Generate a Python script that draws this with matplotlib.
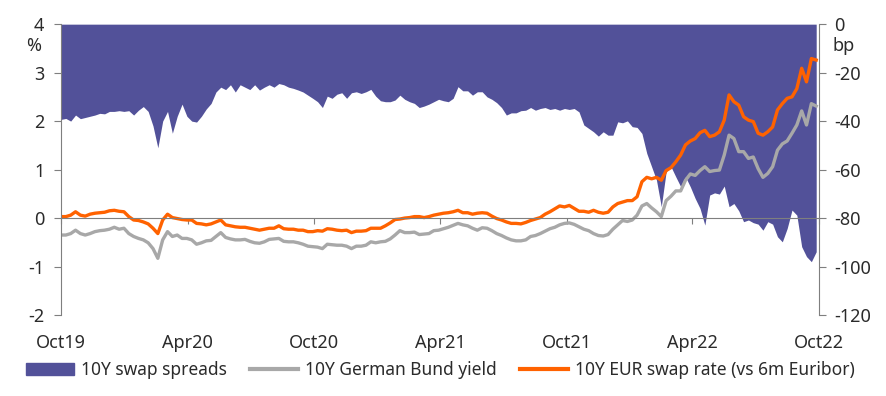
import numpy as np
import pandas as pd
import matplotlib
matplotlib.use("Agg")
import matplotlib.pyplot as plt
from matplotlib.patches import Patch
from matplotlib.lines import Line2D

plt.rcParams['font.family'] = ['Noto Sans', 'DejaVu Sans']

# weekly observations, Oct 2019 -> Oct 2022
start_date = "2019-10-01"

# 10Y swap spreads, bp (right axis)
swap_spread = [
    -39.3, -38.9, -40.0, -37.5, -39.0, -38.5, -38.0, -37.5, -36.8, -37.0,
    -36.0, -36.0, -35.7, -36.0, -35.7, -37.5, -35.5, -34.0, -36.0, -42.0,
    -51.0, -40.0, -36.0, -45.0, -38.0, -33.0, -38.0, -40.0, -40.4, -38.0,
    -35.0, -32.7, -28.0, -26.0, -27.0, -25.0, -28.0, -25.0, -26.0, -27.0,
    -25.0, -27.2, -26.0, -25.0, -26.0, -24.5, -25.0, -26.0, -26.5, -27.2,
    -28.0, -29.3, -30.6, -32.0, -34.4, -29.7, -30.6, -28.9, -28.3, -30.6,
    -28.3, -27.9, -28.6, -27.9, -26.9, -29.7, -31.6, -32.0, -32.0, -31.3,
    -29.3, -31.0, -32.0, -32.7, -34.4, -33.8, -33.0, -32.0, -31.0, -31.6,
    -32.0, -30.6, -25.8, -27.5, -27.5, -29.3, -27.9, -27.9, -30.0, -31.0,
    -32.4, -34.4, -37.5, -36.6, -36.6, -35.7, -35.5, -34.4, -35.5, -34.8,
    -34.4, -35.2, -34.8, -35.5, -34.8, -35.2, -34.8, -36.2, -41.6, -43.0,
    -44.4, -46.2, -44.4, -45.8, -45.8, -40.3, -40.7, -39.9, -42.3, -42.6,
    -45.1, -53.3, -58.8, -64.3, -75.3, -60.9, -58.8, -63.0, -67.0, -63.0,
    -67.1, -71.9, -76.0, -82.9, -70.5, -69.6, -70.1, -66.8, -75.3, -74.0,
    -77.0, -81.5, -80.8, -81.9, -82.5, -85.0, -81.5, -82.5, -87.7, -89.8,
    -84.3, -76.7, -78.8, -91.8, -95.9, -98.0, -93.9,
]

# 10Y German Bund yield, %
bund_yield = [
    -0.35, -0.35, -0.32, -0.25, -0.32, -0.35, -0.32, -0.28, -0.26, -0.25,
    -0.23, -0.19, -0.23, -0.21, -0.32, -0.38, -0.42, -0.45, -0.51, -0.63,
    -0.83, -0.45, -0.28, -0.38, -0.35, -0.42, -0.42, -0.45, -0.54, -0.51,
    -0.47, -0.46, -0.38, -0.30, -0.40, -0.43, -0.45, -0.45, -0.44, -0.48,
    -0.51, -0.52, -0.49, -0.44, -0.43, -0.42, -0.48, -0.49, -0.49, -0.51,
    -0.54, -0.58, -0.59, -0.60, -0.63, -0.54, -0.55, -0.56, -0.56, -0.58,
    -0.63, -0.58, -0.58, -0.56, -0.49, -0.51, -0.49, -0.48, -0.43, -0.35,
    -0.26, -0.30, -0.30, -0.29, -0.34, -0.33, -0.32, -0.26, -0.25, -0.22,
    -0.19, -0.15, -0.11, -0.14, -0.16, -0.21, -0.25, -0.20, -0.21, -0.26,
    -0.32, -0.36, -0.41, -0.45, -0.47, -0.47, -0.45, -0.38, -0.36, -0.32,
    -0.27, -0.22, -0.19, -0.14, -0.11, -0.10, -0.13, -0.18, -0.23, -0.26,
    -0.32, -0.36, -0.37, -0.34, -0.23, -0.14, -0.05, -0.07, -0.04, 0.06,
    0.25, 0.30, 0.21, 0.13, 0.03, 0.36, 0.45, 0.56, 0.56, 0.78,
    0.91, 0.88, 0.98, 1.06, 0.96, 0.98, 0.99, 1.30, 1.71, 1.64,
    1.37, 1.37, 1.23, 1.26, 1.02, 0.84, 0.92, 1.06, 1.40, 1.53,
    1.59, 1.75, 1.92, 2.21, 1.92, 2.36, 2.31,
]

# 10Y EUR swap rate (vs 6m Euribor), %
swap_rate = [
    0.03, 0.03, 0.06, 0.13, 0.06, 0.04, 0.08, 0.10, 0.11, 0.12,
    0.15, 0.16, 0.14, 0.13, 0.03, -0.04, -0.05, -0.08, -0.12, -0.21,
    -0.32, -0.04, 0.08, 0.01, -0.01, -0.03, -0.04, -0.04, -0.11, -0.12,
    -0.14, -0.12, -0.08, -0.04, -0.14, -0.16, -0.18, -0.19, -0.19, -0.21,
    -0.23, -0.25, -0.23, -0.21, -0.21, -0.16, -0.22, -0.23, -0.23, -0.25,
    -0.25, -0.28, -0.28, -0.26, -0.27, -0.22, -0.23, -0.25, -0.26, -0.25,
    -0.30, -0.27, -0.27, -0.26, -0.21, -0.21, -0.21, -0.16, -0.10, -0.03,
    -0.02, 0.00, 0.01, 0.03, 0.03, 0.01, 0.03, 0.06, 0.08, 0.10,
    0.11, 0.13, 0.16, 0.11, 0.11, 0.08, 0.10, 0.11, 0.10, 0.04,
    -0.01, -0.04, -0.08, -0.11, -0.11, -0.12, -0.09, -0.05, -0.02, 0.01,
    0.08, 0.13, 0.19, 0.25, 0.23, 0.26, 0.20, 0.14, 0.14, 0.12,
    0.16, 0.12, 0.10, 0.12, 0.23, 0.30, 0.33, 0.36, 0.36, 0.44,
    0.75, 0.84, 0.81, 0.84, 0.78, 0.98, 1.04, 1.16, 1.30, 1.51,
    1.59, 1.64, 1.76, 1.81, 1.68, 1.71, 1.78, 2.02, 2.54, 2.40,
    2.33, 2.09, 2.02, 1.99, 1.75, 1.71, 1.78, 1.88, 2.23, 2.36,
    2.47, 2.50, 2.67, 3.09, 2.81, 3.29, 3.26,
]

tick_dates = ["2019-10-01", "2020-04-01", "2020-10-01", "2021-04-01",
              "2021-10-01", "2022-04-01", "2022-10-01"]
tick_labels = ["Oct19", "Apr20", "Oct20", "Apr21", "Oct21", "Apr22", "Oct22"]

purple = "#525199"
grey = "#A8A8A8"
orange = "#FF6200"
axis_col = "#7F7F7F"
text_col = "#2B2B2B"
fs = 13

dates = pd.date_range(start_date, periods=len(swap_spread), freq="7D")
ticks = pd.to_datetime(tick_dates)

fig = plt.figure(figsize=(8.87, 3.96), dpi=100)
ax = fig.add_axes([0.0688, 0.2045, 0.8545, 0.7345])
ax2 = ax.twinx()

# spreads on the right (bp) axis, filled down from zero
ax2.fill_between(dates, swap_spread, 0, color=purple, linewidth=0)
ax2.set_ylim(-120, 0)
ax2.set_yticks(np.arange(-120, 1, 20))

# lines on the left axis, drawn above the fill
ax.set_zorder(ax2.get_zorder() + 1)
ax.patch.set_visible(False)
ax.plot(dates, bund_yield, color=grey, lw=2.4)
ax.plot(dates, swap_rate, color=orange, lw=2.4)
ax.set_ylim(-2, 4)
ax.set_yticks(np.arange(-2, 5, 1))
ax.set_xlim(ticks[0], ticks[-1])

ax.set_xticks(ticks)
ax.spines['bottom'].set_position(('data', 0))
ax.tick_params(axis='x', direction='out', length=4, color=axis_col,
               labelbottom=False)
for d, lab in zip(ticks, tick_labels):
    ax.text(d, -0.095, lab, transform=ax.get_xaxis_transform(),
            ha='center', va='center', fontsize=fs, color=text_col)

for a in (ax, ax2):
    a.spines['top'].set_visible(False)
    for s in ('left', 'right', 'bottom'):
        a.spines[s].set_color(axis_col)
ax2.spines['bottom'].set_visible(False)
ax.spines['right'].set_visible(False)
ax2.spines['left'].set_visible(False)

ax.tick_params(axis='y', length=5, color=axis_col, labelsize=fs,
               labelcolor=text_col, pad=7)
ax2.tick_params(axis='y', length=5, color=axis_col, labelsize=fs,
                labelcolor=text_col, pad=6)
fmt = matplotlib.ticker.FuncFormatter(lambda v, p: f"{v:g}")
ax.yaxis.set_major_formatter(fmt)
ax2.yaxis.set_major_formatter(fmt)

ax.text(-0.036, 0.925, "%", transform=ax.transAxes, ha='center', va='center',
        fontsize=fs, color=text_col)
ax2.text(1.033, 0.925, "bp", transform=ax.transAxes, ha='center', va='center',
         fontsize=fs, color=text_col)

handles = [Patch(color=purple),
           Line2D([], [], color=grey, lw=3),
           Line2D([], [], color=orange, lw=3)]
labels = ["10Y swap spreads", "10Y German Bund yield",
          "10Y EUR swap rate (vs 6m Euribor)"]
fig.legend(handles, labels, loc='center left', bbox_to_anchor=(0.012, 0.065),
           ncol=3, frameon=False, fontsize=12.5, handlelength=2.75,
           handleheight=0.7, handletextpad=0.4, columnspacing=1.35,
           labelcolor=text_col)

fig.savefig("out.png", dpi=100)
